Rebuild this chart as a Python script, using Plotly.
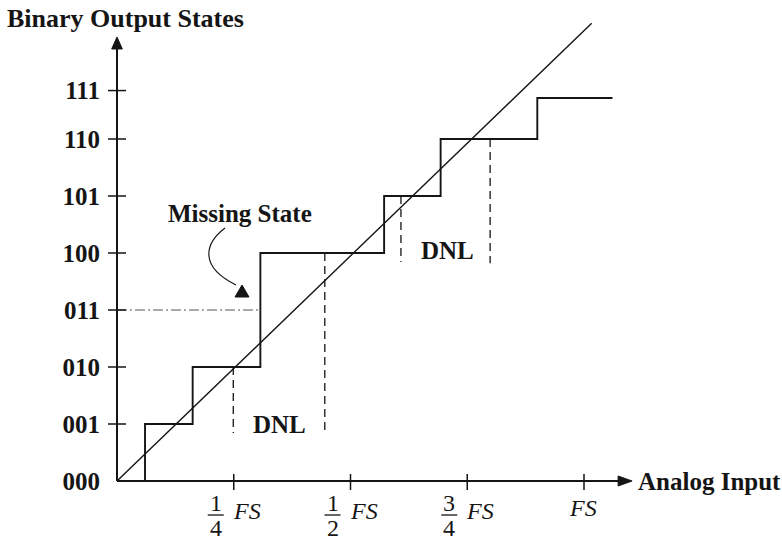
import plotly.graph_objects as go

W, H = 782, 543
FONT = "Liberation Serif, Times New Roman, serif"

# Output codes and where each code tick sits on the vertical axis (LSB units)
code_labels = ["000", "001", "010", "011", "100", "101", "110", "111"]
code_pos = [0, 1, 2, 3, 4, 5, 6, 6.85]

# Input-axis ticks (fraction of full scale) and their fraction labels
fs_ticks = [0.25, 0.5, 0.75, 1.0]
fs_num = ["1", "1", "3", ""]
fs_den = ["4", "2", "4", ""]

# Actual converter transfer curve: transition inputs and output levels
stair_x = [0.0, 0.060, 0.162, 0.307, 0.572, 0.693, 0.900, 1.061]
stair_y = [0, 1, 2, 4, 5, 6, 6.72, 6.72]

# Ideal transfer line
ideal_x = [0.0, 1.0165]
ideal_y = [0.0, 8.03]

# Guide for the missing code 011
missing_code = 3
missing_x = [0.0, 0.307]

# DNL marker lines: input position, upper and lower ends (LSB units)
dnl_x = [0.249, 0.445, 0.608, 0.799]
dnl_top = [2, 4, 5, 6]
dnl_bottom = [0.84, 0.86, 3.84, 3.82]

# Axis extents (arrow tips)
x_axis_end = 1.103
y_axis_end = 7.79

# Scale: pixels per full scale / per LSB, origin position in the page
PX_FS, PX_LSB = 467.0, 57.0
ORIGIN_X, ORIGIN_Y = 117.0, 481.0
x_range = [-ORIGIN_X / PX_FS, (W - ORIGIN_X) / PX_FS]
y_range = [-(H - ORIGIN_Y) / PX_LSB, ORIGIN_Y / PX_LSB]

INK = "#151515"

fig = go.Figure()

# Ideal straight-line transfer
fig.add_trace(go.Scatter(x=ideal_x, y=ideal_y, mode="lines",
                         line=dict(color=INK, width=1.4), hoverinfo="skip"))

# Actual staircase transfer
fig.add_trace(go.Scatter(x=stair_x, y=stair_y, mode="lines", line_shape="hv",
                         line=dict(color=INK, width=1.9), hoverinfo="skip"))

# Missing-code guide line
fig.add_trace(go.Scatter(x=missing_x, y=[missing_code] * 2, mode="lines",
                         line=dict(color="#555555", width=1, dash="10px,3px,2px,3px"),
                         hoverinfo="skip"))

# DNL dashed verticals
dx, dy = [], []
for x, t, b in zip(dnl_x, dnl_top, dnl_bottom):
    dx += [x, x, None]
    dy += [t, b, None]
fig.add_trace(go.Scatter(x=dx, y=dy, mode="lines",
                         line=dict(color=INK, width=1.3, dash="8px,5px"),
                         hoverinfo="skip"))

shapes = []
# Axis lines
shapes.append(dict(type="line", x0=0, y0=0, x1=x_axis_end - 0.02, y1=0,
                   line=dict(color=INK, width=2)))
shapes.append(dict(type="line", x0=0, y0=0, x1=0, y1=y_axis_end - 0.15,
                   line=dict(color=INK, width=2)))
# Arrow heads
shapes.append(dict(type="path", xsizemode="pixel", ysizemode="pixel",
                   xanchor=x_axis_end, yanchor=0,
                   path="M -14,-5 L 0,0 L -14,5 Z",
                   fillcolor=INK, line=dict(color=INK, width=1)))
shapes.append(dict(type="path", xsizemode="pixel", ysizemode="pixel",
                   xanchor=0, yanchor=y_axis_end,
                   path="M -5.3,-12 L 0,0 L 5.3,-12 Z",
                   fillcolor=INK, line=dict(color=INK, width=1)))
# Tick marks crossing the axes
for p in code_pos[1:]:
    shapes.append(dict(type="line", xsizemode="pixel", xanchor=0, x0=-9, x1=9,
                       y0=p, y1=p, line=dict(color=INK, width=1.5)))
for t in fs_ticks:
    shapes.append(dict(type="line", ysizemode="pixel", yanchor=0, y0=-9, y1=7,
                       x0=t, x1=t, line=dict(color=INK, width=1.5)))
# Fraction bars
for t, n in zip(fs_ticks, fs_num):
    if n:
        shapes.append(dict(type="line", xsizemode="pixel", ysizemode="pixel",
                           xanchor=t, yanchor=0, x0=-26, x1=-10, y0=-34, y1=-34,
                           line=dict(color=INK, width=1.3)))

# "Missing State" pointer: curved stroke and triangle head
shapes.append(dict(type="path",
                   path="M 0.2313,4.439 C 0.185,4.15 0.178,3.75 0.2548,3.44",
                   line=dict(color=INK, width=1.2)))
shapes.append(dict(type="path", xsizemode="pixel", ysizemode="pixel",
                   xanchor=0.2677, yanchor=3.228,
                   path="M -7,0 L 7,0 L 0,12 Z",
                   fillcolor=INK, line=dict(color=INK, width=1)))

annotations = []
bold = dict(family=FONT, size=25, color=INK, weight="bold")
title_font = dict(family=FONT, size=26, color=INK, weight="bold")
annotations.append(dict(text="Binary Output States", xref="paper", yref="paper",
                        x=5 / W, y=1 - 18 / H, xanchor="left", yanchor="middle",
                        showarrow=False, font=title_font))
annotations.append(dict(text="Analog Input", xref="paper", yref="paper",
                        x=636 / W, y=1 - 481 / H, xanchor="left", yanchor="middle",
                        showarrow=False, font=bold))
annotations.append(dict(text="Missing State", x=0.263, y=4.70,
                        xanchor="center", yanchor="middle", showarrow=False, font=bold))
annotations.append(dict(text="DNL", x=0.349, y=1.0,
                        xanchor="center", yanchor="middle", showarrow=False, font=bold))
annotations.append(dict(text="DNL", x=0.707, y=4.05,
                        xanchor="center", yanchor="middle", showarrow=False, font=bold))

plain = dict(family=FONT, size=24, color=INK)
for t, n, d in zip(fs_ticks, fs_num, fs_den):
    if n:
        annotations.append(dict(text=n, x=t, y=0, xshift=-18, yshift=-22,
                                xanchor="center", yanchor="middle",
                                showarrow=False, font=plain))
        annotations.append(dict(text=d, x=t, y=0, xshift=-18, yshift=-47,
                                xanchor="center", yanchor="middle",
                                showarrow=False, font=plain))
        annotations.append(dict(text="<i>FS</i>", x=t, y=0, xshift=-3, yshift=-30,
                                xanchor="left", yanchor="middle",
                                showarrow=False, font=plain))
    else:
        annotations.append(dict(text="<i>FS</i>", x=t, y=0, xshift=-1, yshift=-27,
                                xanchor="center", yanchor="middle",
                                showarrow=False, font=plain))

fig.update_layout(
    width=W, height=H,
    margin=dict(l=0, r=0, t=0, b=0),
    paper_bgcolor="white", plot_bgcolor="white",
    showlegend=False,
    xaxis=dict(range=x_range, visible=False, fixedrange=True),
    yaxis=dict(range=y_range, anchor="free", position=ORIGIN_X / W,
               showline=False, showgrid=False, zeroline=False,
               tickmode="array", tickvals=code_pos, ticktext=code_labels,
               ticks="", ticklabelstandoff=17,
               tickfont=dict(family=FONT, size=25, color=INK, weight="bold"),
               fixedrange=True),
    shapes=shapes,
    annotations=annotations,
)

fig.write_html("out.html")
